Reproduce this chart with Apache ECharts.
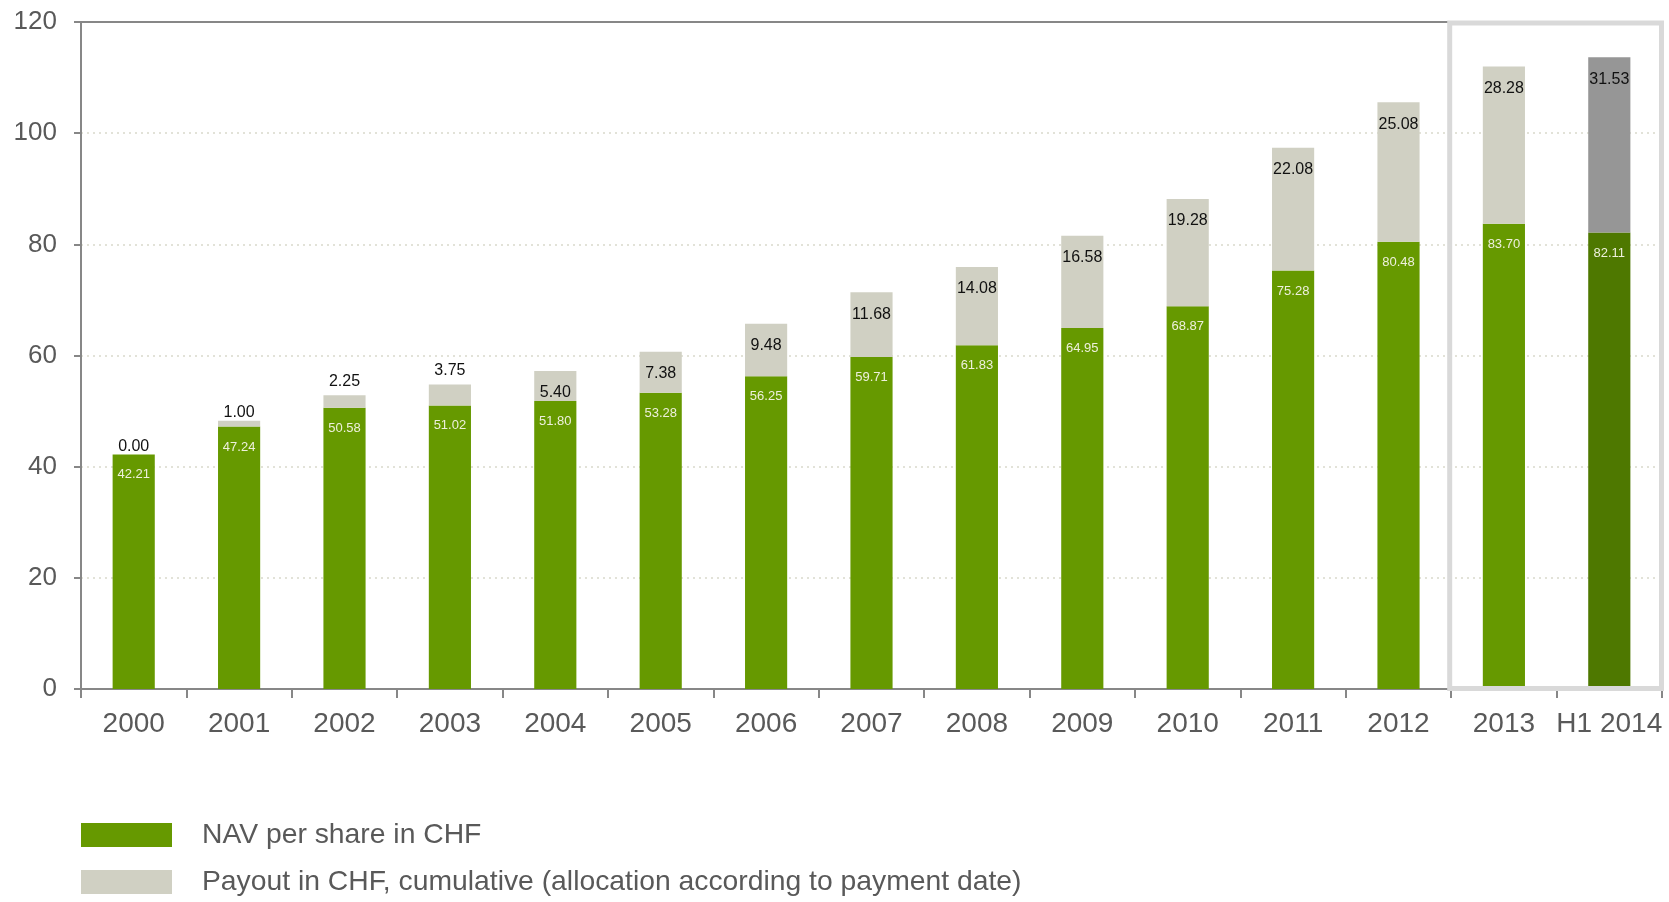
<!DOCTYPE html>
<html>
<head>
<meta charset="utf-8">
<title>NAV per share and cumulative payout</title>
<script src="https://cdn.jsdelivr.net/npm/echarts@6/dist/echarts.min.js"></script>
<style>
  html, body { margin: 0; padding: 0; background: #ffffff; }
  #chart { width: 1669px; height: 902px; }
</style>
</head>
<body>
<div id="chart"></div>
<script>
// Periods on the x axis
const periods = ['2000', '2001', '2002', '2003', '2004', '2005', '2006', '2007',
  '2008', '2009', '2010', '2011', '2012', '2013', 'H1 2014'];

// Net asset value per share (CHF)
const navPerShare = [42.21, 47.24, 50.58, 51.02, 51.80, 53.28, 56.25, 59.71,
  61.83, 64.95, 68.87, 75.28, 80.48, 83.70, 82.11];

// Cumulative payout (CHF), stacked on top of NAV
const payoutCumulative = [0.00, 1.00, 2.25, 3.75, 5.40, 7.38, 9.48, 11.68,
  14.08, 16.58, 19.28, 22.08, 25.08, 28.28, 31.53];

const yTicks = { min: 0, max: 120, step: 20 };

const seriesNames = ['NAV per share in CHF',
  'Payout in CHF, cumulative (allocation according to payment date)'];

const FONT = '"Liberation Sans", Arial, Helvetica, sans-serif';
const GREEN = '#669900';
const GREEN_DARK = '#4e7800';
const STONE = '#d0d0c3';
const GREY = '#969696';
const AXIS = '#878787';
const TEXT = '#595959';

const lastIdx = periods.length - 1;

const navData = navPerShare.map((v, i) => i === lastIdx
  ? { value: v, itemStyle: { color: GREEN_DARK } }
  : v);

// Short payout segments carry their label above the bar, taller ones inside
const payoutData = payoutCumulative.map((v, i) => {
  const item = { value: v };
  if (v < 5) {
    item.label = { position: 'top', distance: v < 2 ? 0 : 6 };
  }
  if (i === lastIdx) item.itemStyle = { color: GREY };
  return item;
});

// One legend block per row, stacked under the plot
function legendRow(name, top, padTop) {
  return {
    left: 76,
    top: top,
    itemWidth: 91,
    itemHeight: 24,
    icon: 'rect',
    selectedMode: false,
    data: [name],
    textStyle: {
      fontFamily: FONT,
      fontSize: 28.3,
      lineHeight: 28,
      color: TEXT,
      padding: [padTop, 0, 0, 25]
    }
  };
}

const chart = echarts.init(document.getElementById('chart'), null, { renderer: 'canvas' });

chart.setOption({
  animation: false,
  backgroundColor: '#ffffff',
  textStyle: { fontFamily: FONT },
  grid: { left: 81, right: 7, top: 22, bottom: 213, containLabel: false },
  legend: [legendRow(seriesNames[0], 816, 0), legendRow(seriesNames[1], 859, 8)],
  xAxis: [{
    type: 'category',
    data: periods,
    position: 'bottom',
    boundaryGap: true,
    axisLine: { show: true, lineStyle: { color: AXIS, width: 2 } },
    axisTick: { show: true, alignWithLabel: false, length: 9, lineStyle: { color: AXIS, width: 2 } },
    axisLabel: { color: TEXT, fontSize: 28, fontFamily: FONT, margin: 21, interval: 0 },
    splitLine: { show: false }
  }, {
    // top frame line
    type: 'category',
    data: periods,
    position: 'top',
    axisLine: { show: true, lineStyle: { color: AXIS, width: 2 } },
    axisTick: { show: false },
    axisLabel: { show: false },
    splitLine: { show: false }
  }],
  yAxis: {
    type: 'value',
    min: yTicks.min,
    max: yTicks.max,
    interval: yTicks.step,
    axisLine: { show: true, lineStyle: { color: AXIS, width: 2 } },
    axisTick: { show: true, length: 7, lineStyle: { color: AXIS, width: 2 } },
    axisLabel: { color: TEXT, fontSize: 26, fontFamily: FONT, margin: 24 },
    splitLine: { show: true, lineStyle: { color: '#e2e2d8', width: 2, type: [2, 4] } }
  },
  series: [{
    name: seriesNames[0],
    type: 'bar',
    stack: 'total',
    barWidth: '40%',
    itemStyle: { color: GREEN },
    label: {
      show: true,
      position: 'insideTop',
      distance: 14,
      color: '#eef0dc',
      fontSize: 13,
      fontFamily: FONT,
      formatter: p => p.value.toFixed(2)
    },
    data: navData
  }, {
    name: seriesNames[1],
    type: 'bar',
    stack: 'total',
    barWidth: '40%',
    itemStyle: { color: STONE },
    label: {
      show: true,
      position: 'insideTop',
      distance: 14,
      color: '#111111',
      fontSize: 16,
      fontFamily: FONT,
      formatter: p => p.value.toFixed(2)
    },
    data: payoutData
  }]
});

// Frame around the two most recent periods, placed from the axis scales
function drawHighlight() {
  const cPrev = chart.convertToPixel({ xAxisIndex: 0 }, periods[lastIdx - 2]);
  const cFirst = chart.convertToPixel({ xAxisIndex: 0 }, periods[lastIdx - 1]);
  const cLast = chart.convertToPixel({ xAxisIndex: 0 }, periods[lastIdx]);
  const band = cLast - cFirst;
  const xLeft = (cPrev + cFirst) / 2 - 1.5;
  const xRight = cLast + band / 2 - 0.5;
  const yTop = chart.convertToPixel({ yAxisIndex: 0 }, yTicks.max) + 1;
  const yBottom = chart.convertToPixel({ yAxisIndex: 0 }, yTicks.min) - 0.5;
  chart.setOption({
    graphic: [{
      type: 'rect',
      z: 100,
      shape: { x: xLeft, y: yTop, width: xRight - xLeft, height: yBottom - yTop },
      style: { fill: 'none', stroke: '#d9d9d9', lineWidth: 5 }
    }]
  });
}
drawHighlight();
</script>
</body>
</html>
